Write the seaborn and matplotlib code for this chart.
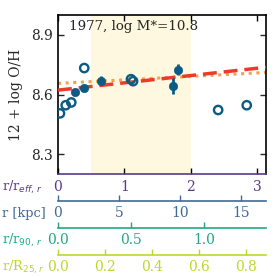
import matplotlib
matplotlib.use("Agg")
import matplotlib.pyplot as plt
import seaborn as sns
import numpy as np
import pandas as pd

# ---- data ----
open_x = [0.03, 0.116, 0.20, 0.395, 1.098, 1.13, 2.41, 2.84]
open_y = [8.505, 8.546, 8.56, 8.733, 8.677, 8.667, 8.522, 8.546]
filled_x = [0.256, 0.386, 0.642, 1.734, 1.80]
filled_y = [8.615, 8.635, 8.669, 8.643, 8.724]
filled_err = [0.0, 0.0, 0.022, 0.038, 0.028]
fit_x = [0.0, 3.13]
fit_red_y = [8.622, 8.737]
fit_orange_y = [8.656, 8.711]
shade_range = [0.5, 2.0]
label_text = "1977, log M*=10.8"
yticks = [8.3, 8.6, 8.9]
reff_kpc = 5.45
r90_reff = 2.195
r25_reff = 3.53

sns.set_style("ticks")
plt.rcParams["font.family"] = ["DejaVu Serif"]
plt.rcParams["mathtext.fontset"] = "dejavusans"

FS = 10
c_purple = "#5b3a8c"
c_blue = "#3f6a99"
c_teal = "#22a884"
c_lime = "#bcd82a"
c_pt = "#0b5c82"

fig = plt.figure(figsize=(2.77, 2.77), dpi=100)
ax = fig.add_axes([58/277, 1-174/277, 208/277, 159/277])

ax.axvspan(shade_range[0], shade_range[1], color="#fff8e0", lw=0, zorder=0)

sns.lineplot(x=fit_x, y=fit_orange_y, ax=ax, color="#f6a04d", lw=2.2,
             linestyle=(0, (1, 1.5)), zorder=2)
sns.lineplot(x=fit_x, y=fit_red_y, ax=ax, color="#ec3b2b", lw=2.5,
             linestyle=(0, (4, 2)), zorder=3)

ax.errorbar(filled_x, filled_y, yerr=filled_err, fmt="none", ecolor=c_pt,
            elinewidth=2, capsize=0, zorder=4)
sns.scatterplot(x=filled_x, y=filled_y, ax=ax, color=c_pt, s=36,
                edgecolor=c_pt, linewidth=0.5, zorder=5)
sns.scatterplot(x=open_x, y=open_y, ax=ax, facecolor="none", edgecolor=c_pt,
                s=36, linewidth=1.7, zorder=5)

ax.set_xlim(0, 3.13)
ax.set_ylim(8.2, 9.0)
ax.set_yticks(yticks)
ax.set_yticklabels([f"{v:.1f}" for v in yticks], fontsize=FS)
ax.set_xticks([0, 1, 2, 3])
ax.set_xticklabels(["0", "1", "2", "3"], fontsize=FS, color=c_purple)
ax.tick_params(direction="in", top=True, right=True, length=4, width=1)
ax.tick_params(axis="x", colors=c_purple, pad=4)
ax.tick_params(axis="x", which="both", top=True, color="black")
ax.tick_params(axis="x", labelcolor=c_purple)
for s in ["left", "right", "top"]:
    ax.spines[s].set_linewidth(1.2)
    ax.spines[s].set_color("black")
ax.spines["bottom"].set_color(c_purple)
ax.spines["bottom"].set_linewidth(1.2)
ax.set_ylabel("12 + log O/H", fontsize=FS, labelpad=6)
ax.set_xlabel("")
ax.text(0.055, 0.93, label_text, transform=ax.transAxes, fontsize=9.6,
        ha="left", va="center")

def add_sec(loc, f, finv, ticks, labels, color):
    sec = ax.secondary_xaxis(loc, functions=(f, finv))
    sec.set_xticks(ticks)
    sec.set_xticklabels(labels, fontsize=FS, color=color)
    sec.tick_params(direction="in", length=4, width=1, color=color, pad=4)
    sec.spines["bottom"].set_color(color)
    sec.spines["bottom"].set_linewidth(1.2)
    return sec

add_sec(-0.168, lambda x: x*reff_kpc, lambda x: x/reff_kpc,
        [0, 5, 10, 15], ["0", "5", "10", "15"], c_blue)
add_sec(-0.338, lambda x: x/r90_reff, lambda x: x*r90_reff,
        [0.0, 0.5, 1.0], ["0.0", "0.5", "1.0"], c_teal)
add_sec(-0.509, lambda x: x/r25_reff, lambda x: x*r25_reff,
        [0.0, 0.2, 0.4, 0.6, 0.8], ["0.0", "0.2", "0.4", "0.6", "0.8"], c_lime)

LFS = 9.3
fig.text(2/277, 1-187/277, r"r/r$_{eff,\,r}$", color=c_purple, fontsize=LFS, va="center", ha="left")
fig.text(2/277, 1-213/277, "r [kpc]", color=c_blue, fontsize=LFS, va="center", ha="left")
fig.text(2/277, 1-240/277, r"r/r$_{90,\,r}$", color=c_teal, fontsize=LFS, va="center", ha="left")
fig.text(2/277, 1-267/277, r"r/R$_{25,r}$", color=c_lime, fontsize=LFS, va="center", ha="left")

fig.savefig("out.png", dpi=100)
